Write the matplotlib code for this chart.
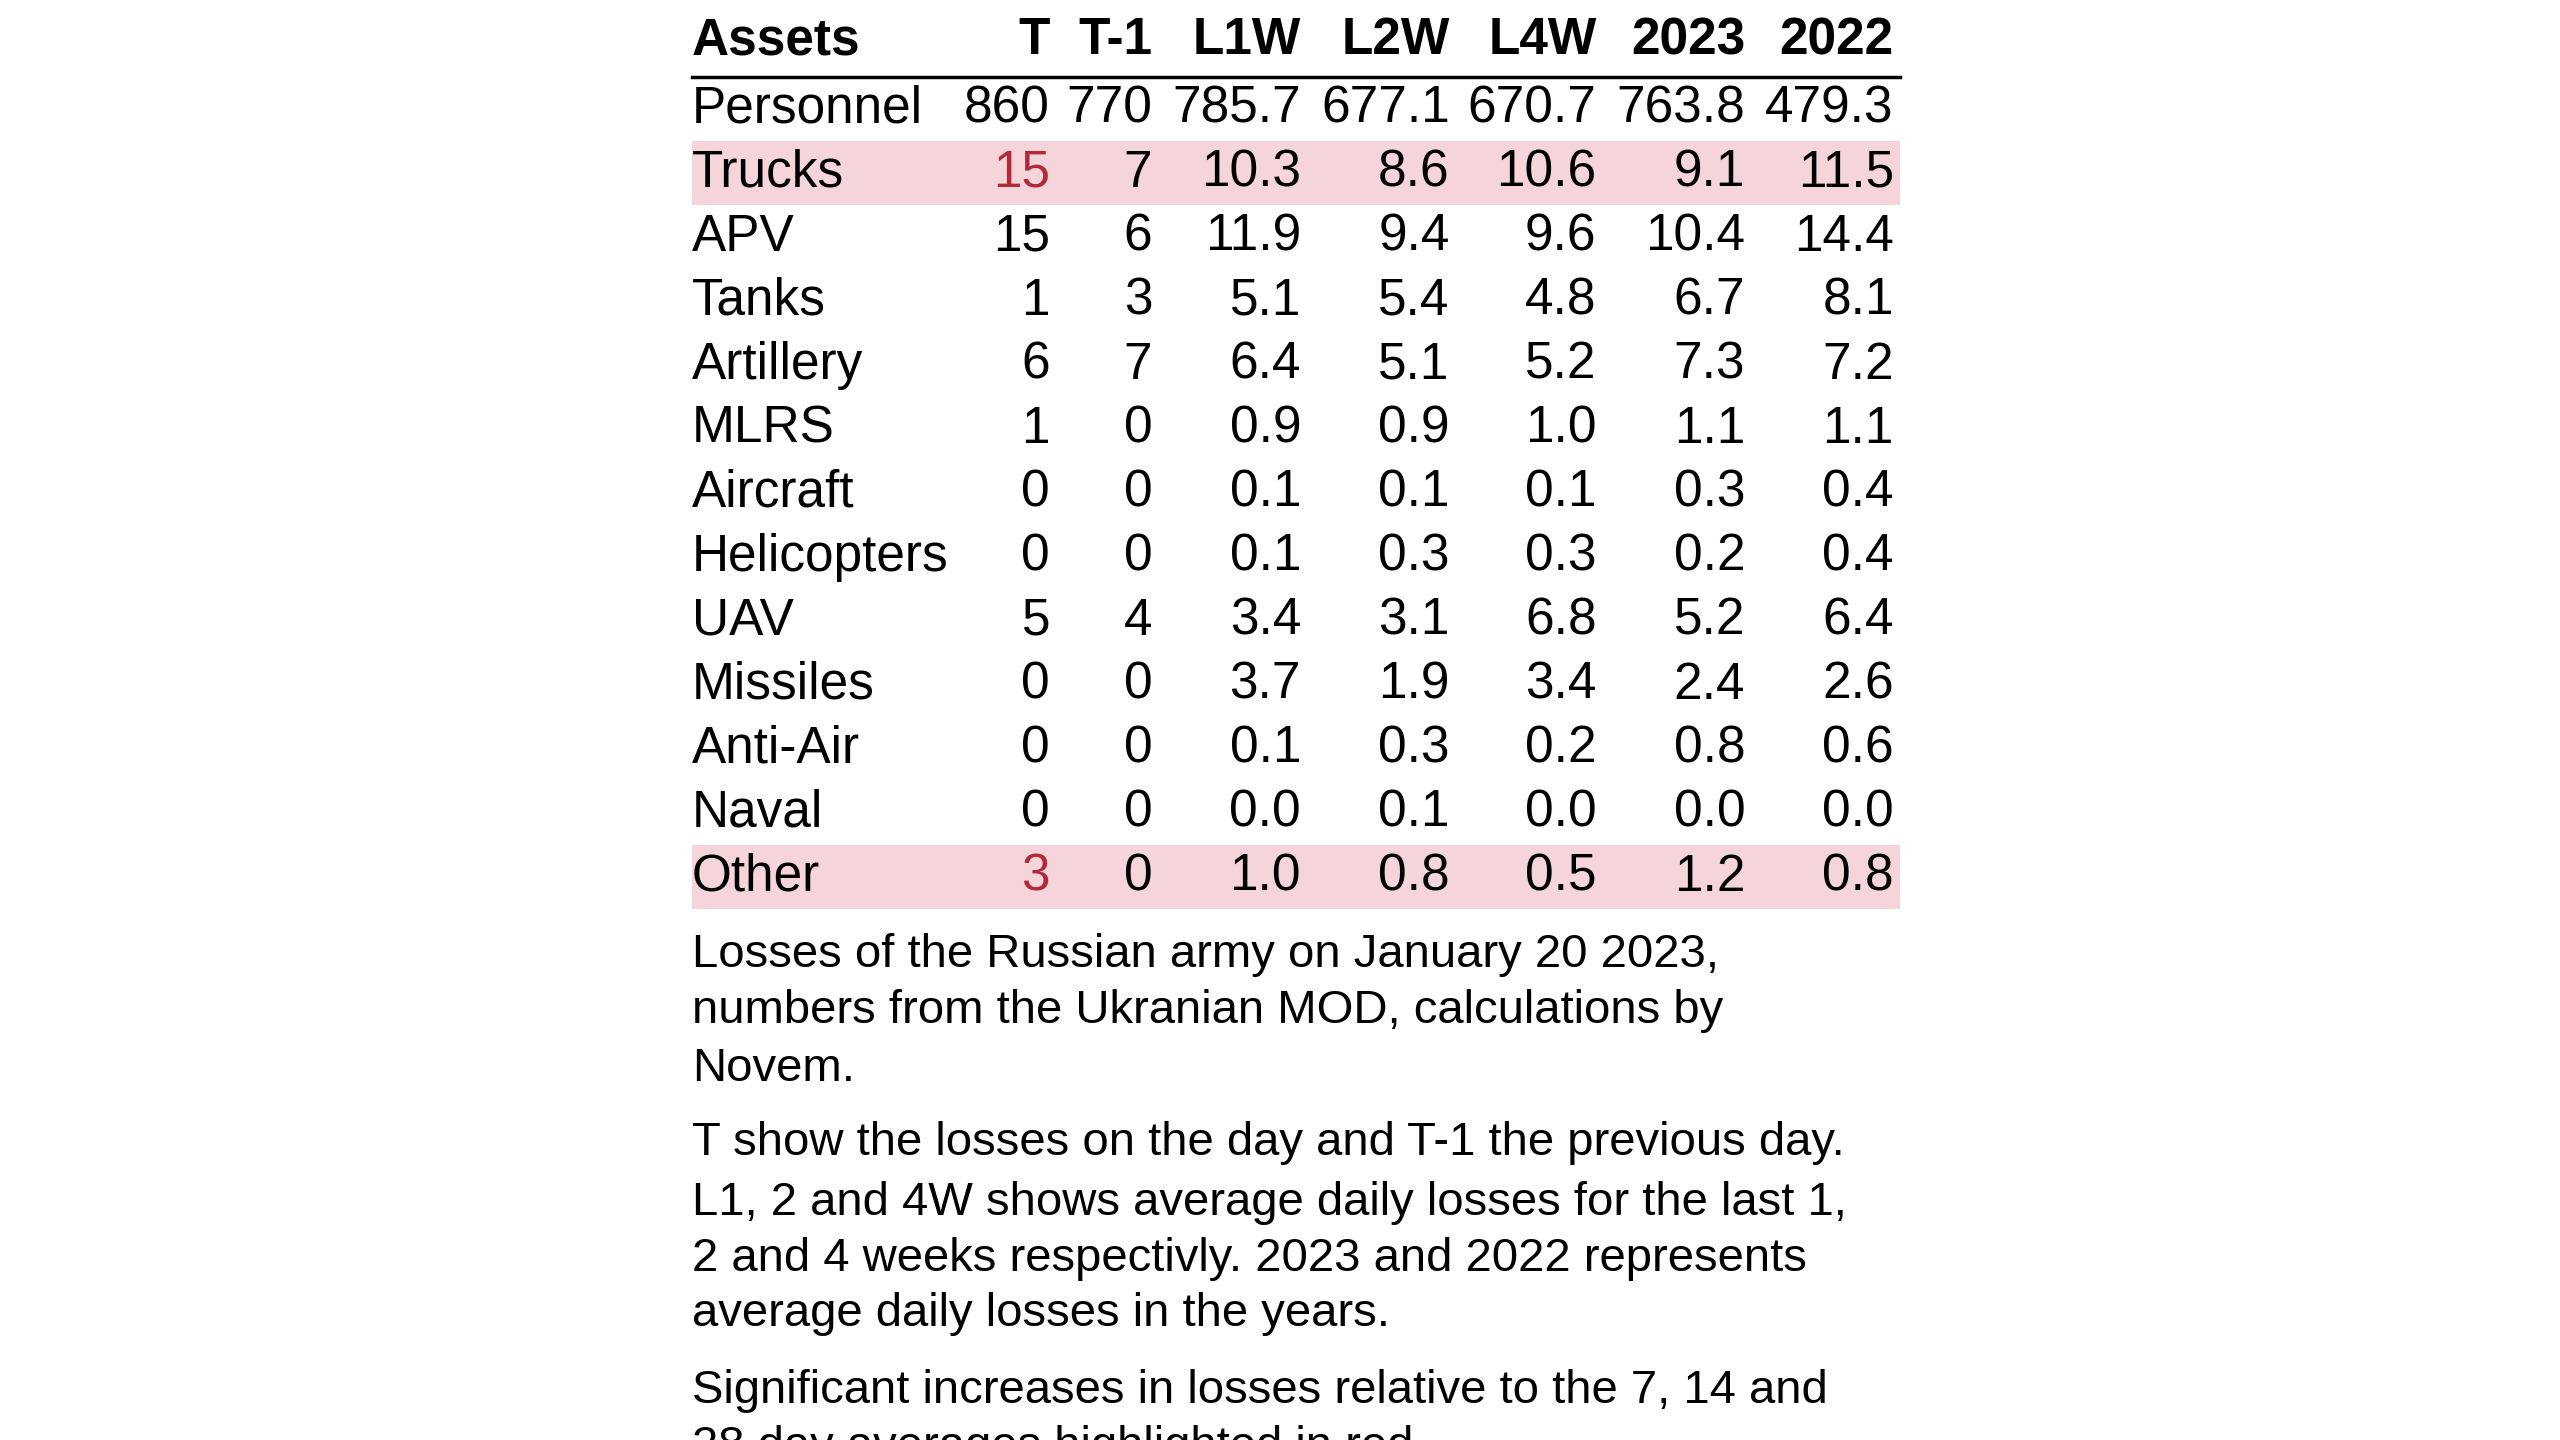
import matplotlib
matplotlib.use("Agg")
import matplotlib.pyplot as plt
from matplotlib.patches import Rectangle

columns = ["T", "T-1", "L1W", "L2W", "L4W", "2023", "2022"]
assets = ["Personnel", "Trucks", "APV", "Tanks", "Artillery", "MLRS", "Aircraft",
          "Helicopters", "UAV", "Missiles", "Anti-Air", "Naval", "Other"]
values = [
    ["860", "770", "785.7", "677.1", "670.7", "763.8", "479.3"],
    ["15", "7", "10.3", "8.6", "10.6", "9.1", "11.5"],
    ["15", "6", "11.9", "9.4", "9.6", "10.4", "14.4"],
    ["1", "3", "5.1", "5.4", "4.8", "6.7", "8.1"],
    ["6", "7", "6.4", "5.1", "5.2", "7.3", "7.2"],
    ["1", "0", "0.9", "0.9", "1.0", "1.1", "1.1"],
    ["0", "0", "0.1", "0.1", "0.1", "0.3", "0.4"],
    ["0", "0", "0.1", "0.3", "0.3", "0.2", "0.4"],
    ["5", "4", "3.4", "3.1", "6.8", "5.2", "6.4"],
    ["0", "0", "3.7", "1.9", "3.4", "2.4", "2.6"],
    ["0", "0", "0.1", "0.3", "0.2", "0.8", "0.6"],
    ["0", "0", "0.0", "0.1", "0.0", "0.0", "0.0"],
    ["3", "0", "1.0", "0.8", "0.5", "1.2", "0.8"],
]
highlight_rows = ["Trucks", "Other"]
captions = [
    ["Losses of the Russian army on January 20 2023,",
     "numbers from the Ukranian MOD, calculations by",
     "Novem."],
    ["T show the losses on the day and T-1 the previous day.",
     "L1, 2 and 4W shows average daily losses for the last 1,",
     "2 and 4 weeks respectivly. 2023 and 2022 represents",
     "average daily losses in the years."],
    ["Significant increases in losses relative to the 7, 14 and",
     "28 day averages highlighted in red."],
]

plt.rcParams['font.family'] = ['Liberation Sans', 'DejaVu Sans']
fig = plt.figure(figsize=(25.6, 14.4), dpi=100)
ax = fig.add_axes([0, 0, 1, 1])
ax.set_xlim(0, 1535)
ax.set_ylim(882, 0)
ax.axis("off")

col_right = [636, 698, 788, 878, 967, 1057, 1147]
left, right = 415, 1139
fs = 37
pink = "#f5d5da"
red = "#b22a3a"

ax.text(left, 25, "Assets", fontsize=fs, fontweight="bold", va="center", ha="left")
for c, x in zip(columns, col_right):
    ax.text(x * 0.99, 25, c, fontsize=fs, fontweight="bold", va="center", ha="right")
ax.plot([left, right], [47, 47], color="black", lw=2.5)

y0, dy = 67, 39.2
for i, (a, row) in enumerate(zip(assets, values)):
    y = y0 + i * dy
    hl = a in highlight_rows
    if hl:
        ax.add_patch(Rectangle((left, y - dy / 2), right - left, dy, color=pink, lw=0))
    ax.text(left, y, a, fontsize=fs, va="center", ha="left")
    for j, (v, x) in enumerate(zip(row, col_right)):
        color = red if (hl and j == 0) else "black"
        ax.text(x * 0.99, y, v, fontsize=fs, va="center", ha="right", color=color)

cap_y = [[585, 619, 655], [700, 737, 771, 805], [852, 886]]
for block, ys in zip(captions, cap_y):
    for line, y in zip(block, ys):
        ax.text(left, y, line, fontsize=34, va="center", ha="left")

fig.savefig("out.png", dpi=100)
